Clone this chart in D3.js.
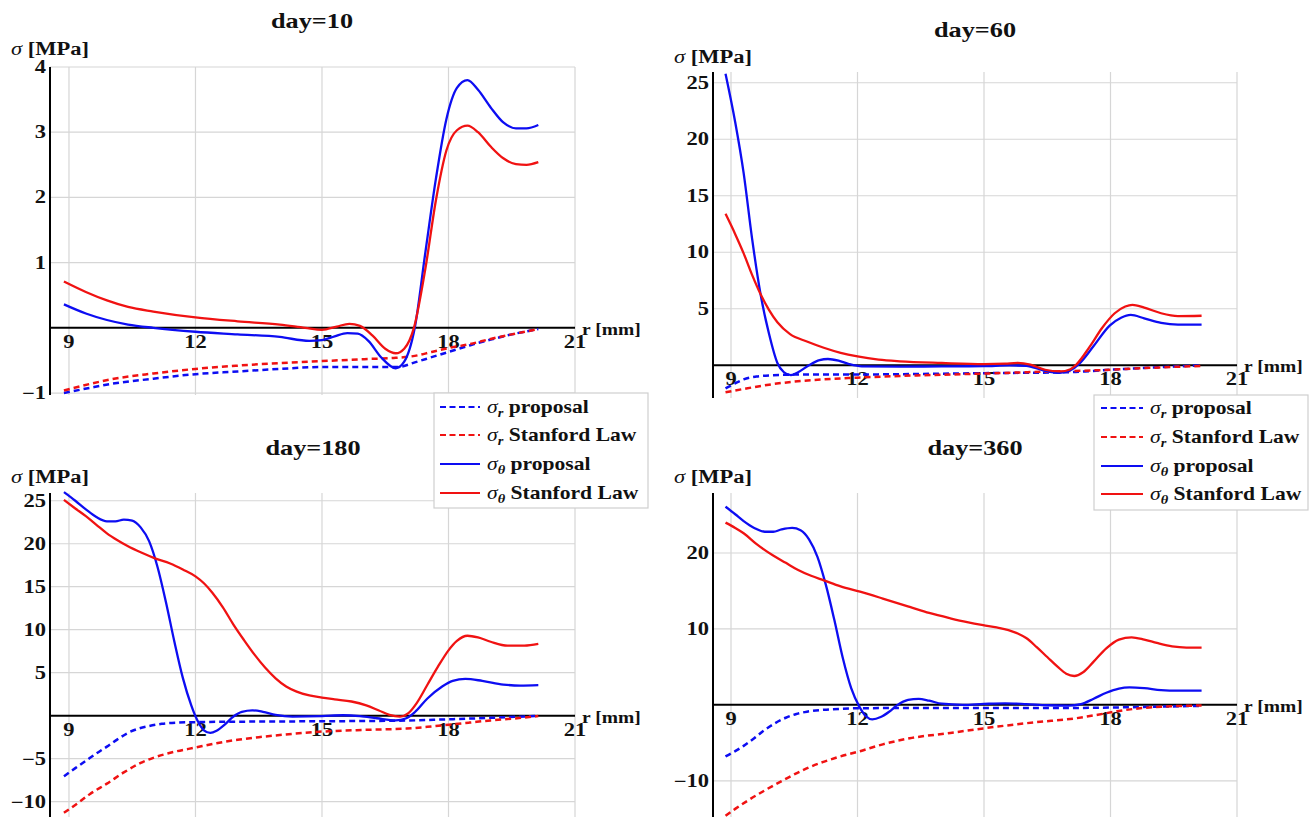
<!DOCTYPE html>
<html><head><meta charset="utf-8">
<script src="https://cdn.jsdelivr.net/npm/d3@7"></script>
<style>body{margin:0;background:#fff}svg{display:block}</style>
</head><body><svg id="c" width="1311" height="817"></svg>
<script>
// ---------------- DATA ----------------
const xTicks = [9, 12, 15, 18, 21];
const yTicks10 = [-1, 1, 2, 3, 4];
const yTicks60 = [5, 10, 15, 20, 25];
const yTicks180 = [-10, -5, 5, 10, 15, 20, 25];
const yTicks360 = [-10, 10, 20];
const titles = ["day=10", "day=60", "day=180", "day=360"];
const seriesNames = ["proposal", "Stanford Law", "proposal", "Stanford Law"];
const seriesSubs = ["r", "r", "θ", "θ"];

// day = 10   [r (mm), sigma (MPa)]
const d10_srProp = [[8.88,-1.0],[9.5,-0.92],[10,-0.86],[11,-0.78],[12,-0.71],[13,-0.67],[14,-0.63],[15,-0.6],[16,-0.6],[16.8,-0.6],[17.2,-0.53],[17.6,-0.45],[18,-0.37],[18.5,-0.27],[19,-0.18],[19.5,-0.1],[20.13,-0.02]];
const d10_srStan = [[8.88,-0.96],[9.5,-0.86],[10,-0.79],[11,-0.7],[12,-0.63],[13,-0.58],[14,-0.54],[15,-0.51],[16,-0.48],[16.75,-0.46],[17.2,-0.43],[17.6,-0.37],[18,-0.31],[18.5,-0.25],[19,-0.17],[19.5,-0.1],[20.13,-0.02]];
const d10_stProp = [[8.88,0.36],[9.4,0.22],[9.9,0.12],[10.4,0.05],[11,0.0],[12,-0.06],[13,-0.1],[14,-0.14],[14.7,-0.2],[15.0,-0.19],[15.3,-0.13],[15.6,-0.08],[15.85,-0.09],[16.1,-0.2],[16.4,-0.45],[16.75,-0.62],[16.95,-0.52],[17.2,0],[17.45,1.15],[17.7,2.28],[17.95,3.2],[18.2,3.68],[18.45,3.8],[18.7,3.65],[19.0,3.38],[19.3,3.15],[19.6,3.06],[19.85,3.06],[20.13,3.11]];
const d10_stStan = [[8.88,0.71],[9.4,0.55],[9.9,0.42],[10.4,0.32],[11,0.25],[12,0.16],[13,0.1],[14,0.05],[14.6,0.0],[15,-0.03],[15.35,0.02],[15.65,0.06],[15.9,0.03],[16.2,-0.12],[16.5,-0.32],[16.75,-0.39],[16.95,-0.32],[17.18,0],[17.45,0.9],[17.7,1.95],[17.95,2.72],[18.2,3.03],[18.45,3.1],[18.7,3.0],[19.0,2.78],[19.3,2.6],[19.6,2.51],[19.85,2.5],[20.13,2.54]];

// day = 60
const d60_srProp = [[8.87,-2.05],[9.1,-1.6],[9.3,-1.25],[9.6,-1.0],[10,-0.88],[10.5,-0.83],[12,-0.82],[15,-0.7],[17,-0.62],[17.5,-0.52],[18,-0.4],[18.5,-0.3],[19,-0.2],[19.5,-0.12],[20.16,0]];
const d60_srStan = [[8.87,-2.4],[9.3,-2.1],[9.9,-1.72],[10.5,-1.45],[11.2,-1.25],[12,-1.1],[13,-0.95],[14,-0.84],[15,-0.74],[16,-0.62],[17,-0.52],[18,-0.4],[19,-0.22],[20.16,-0.06]];
const d60_stProp = [[8.87,25.8],[9.1,21.5],[9.3,17.0],[9.5,11.2],[9.7,6.3],[9.9,2.8],[10.1,0.2],[10.25,-0.6],[10.42,-0.88],[10.6,-0.6],[10.85,0.0],[11.1,0.45],[11.3,0.55],[11.55,0.4],[11.8,0.1],[12.1,-0.1],[13,-0.12],[14,-0.1],[15,-0.08],[15.6,-0.02],[16.0,-0.05],[16.4,-0.45],[16.8,-0.68],[17.05,-0.45],[17.25,0.1],[17.6,1.7],[17.98,3.5],[18.25,4.2],[18.48,4.45],[18.8,4.15],[19.2,3.75],[19.6,3.6],[20.16,3.6]];
const d60_stStan = [[8.87,13.4],[9.1,11.6],[9.3,9.9],[9.5,8.0],[9.7,6.3],[9.9,4.9],[10.1,3.8],[10.4,2.75],[10.8,2.1],[11.2,1.55],[11.6,1.1],[12,0.78],[12.5,0.5],[13,0.35],[14,0.2],[15,0.1],[15.5,0.14],[15.8,0.2],[16.1,0.05],[16.45,-0.4],[16.8,-0.55],[17.05,-0.35],[17.2,0.1],[17.5,1.6],[17.8,3.3],[18.1,4.6],[18.35,5.2],[18.52,5.35],[18.8,5.1],[19.2,4.6],[19.6,4.35],[20.16,4.38]];

// day = 180
const d180_srProp = [[8.88,-7.05],[9.15,-6.1],[9.4,-5.25],[9.65,-4.4],[9.9,-3.6],[10.15,-2.75],[10.4,-2.0],[10.65,-1.5],[10.9,-1.2],[11.2,-0.95],[11.6,-0.8],[12,-0.75],[13,-0.7],[14,-0.67],[15,-0.65],[16,-0.62],[17,-0.57],[18,-0.42],[19,-0.25],[20.13,-0.02]];
const d180_srStan = [[8.88,-11.3],[9.2,-10.2],[9.5,-9.1],[9.9,-7.9],[10.3,-6.6],[10.7,-5.5],[11.0,-4.9],[11.5,-4.2],[12,-3.7],[12.5,-3.2],[13,-2.8],[13.5,-2.5],[14,-2.25],[15,-1.85],[16,-1.65],[17,-1.5],[17.5,-1.3],[18,-1.05],[18.5,-0.8],[19,-0.55],[19.5,-0.35],[20.13,-0.05]];
const d180_stProp = [[8.88,26.0],[9.15,25.0],[9.4,24.0],[9.65,23.1],[9.9,22.6],[10.1,22.6],[10.3,22.8],[10.5,22.7],[10.7,21.9],[10.9,20.3],[11.1,17.3],[11.3,13.2],[11.5,8.6],[11.7,4.4],[11.9,1.2],[12.05,-0.6],[12.2,-1.7],[12.35,-2.0],[12.5,-1.75],[12.7,-1.0],[12.9,-0.1],[13.1,0.45],[13.35,0.62],[13.6,0.45],[13.9,0.1],[14.3,-0.1],[15,-0.05],[15.5,0.05],[15.9,-0.05],[16.3,-0.3],[16.75,-0.55],[17.0,-0.3],[17.2,0.4],[17.5,2.0],[17.85,3.4],[18.1,4.05],[18.4,4.28],[18.8,4.05],[19.3,3.62],[19.7,3.5],[20.13,3.55]];
const d180_stStan = [[8.88,25.1],[9.15,24.1],[9.4,23.2],[9.65,22.2],[9.9,21.2],[10.15,20.4],[10.4,19.7],[10.7,19.0],[11.04,18.3],[11.4,17.7],[11.7,17.0],[12.0,16.2],[12.2,15.4],[12.4,14.3],[12.65,12.6],[12.9,10.6],[13.15,8.8],[13.4,7.1],[13.65,5.6],[13.9,4.35],[14.15,3.4],[14.4,2.8],[14.7,2.35],[15.0,2.1],[15.3,1.9],[15.7,1.65],[16.05,1.2],[16.35,0.6],[16.6,0.1],[16.85,-0.1],[17.05,0.3],[17.25,1.5],[17.5,3.6],[17.75,5.7],[18.0,7.6],[18.2,8.7],[18.45,9.3],[18.7,9.1],[19.0,8.6],[19.4,8.15],[19.8,8.15],[20.13,8.35]];

// day = 360
const d360_srProp = [[8.87,-6.8],[9.1,-6.1],[9.3,-5.4],[9.55,-4.4],[9.8,-3.3],[10.05,-2.4],[10.3,-1.7],[10.55,-1.2],[10.8,-0.9],[11.2,-0.65],[11.6,-0.52],[12,-0.45],[13,-0.42],[15,-0.42],[17,-0.42],[18,-0.35],[19,-0.25],[20.16,-0.13]];
const d360_srStan = [[8.87,-14.6],[9.1,-13.7],[9.4,-12.6],[9.79,-11.3],[10.28,-9.8],[10.78,-8.4],[11.47,-7.0],[12.06,-6.1],[12.6,-5.2],[13.24,-4.4],[14.2,-3.7],[14.98,-3.1],[16.2,-2.3],[17.2,-1.75],[17.7,-1.3],[18.2,-0.8],[18.7,-0.45],[19.2,-0.25],[20.16,-0.08]];
const d360_stProp = [[8.87,26.1],[9.1,25.1],[9.3,24.2],[9.55,23.3],[9.8,22.8],[10.0,22.8],[10.2,23.1],[10.45,23.3],[10.65,23.0],[10.85,21.8],[11.05,19.5],[11.25,15.8],[11.45,11.2],[11.65,6.2],[11.85,2.2],[12.05,-0.3],[12.2,-1.5],[12.35,-1.9],[12.55,-1.6],[12.75,-0.9],[12.95,0.0],[13.2,0.65],[13.45,0.8],[13.7,0.55],[14.0,0.15],[14.5,0.0],[15.0,0.12],[15.5,0.2],[16.0,0.1],[16.5,-0.05],[17.0,-0.1],[17.3,0.1],[17.6,0.8],[17.9,1.6],[18.2,2.15],[18.45,2.3],[18.8,2.2],[19.2,1.95],[19.6,1.88],[20.16,1.88]];
const d360_stStan = [[8.87,24.0],[9.1,23.3],[9.3,22.6],[9.6,21.2],[9.99,19.7],[10.3,18.7],[10.58,17.8],[10.9,17.0],[11.2,16.4],[11.6,15.6],[12.06,14.9],[12.6,14.0],[13.24,12.9],[13.7,12.1],[14.2,11.4],[14.6,10.9],[14.98,10.5],[15.3,10.2],[15.58,9.85],[15.8,9.4],[16.0,8.8],[16.25,7.6],[16.5,6.3],[16.75,5.0],[16.95,4.1],[17.14,3.8],[17.35,4.3],[17.6,5.7],[17.9,7.45],[18.2,8.6],[18.5,8.9],[18.8,8.6],[19.1,8.15],[19.46,7.7],[19.8,7.55],[20.16,7.55]];

// ---------------- LAYOUT ----------------
const BLUE = "#0d0df2", RED = "#f01212";
const FONT = '"Liberation Serif","Times New Roman",serif';
const SX = 1.25;
const styles = [
  {color: BLUE, dash: "6,4"},
  {color: RED, dash: "6,4"},
  {color: BLUE, dash: null},
  {color: RED, dash: null}
];

const panels = [
  {title: titles[0], series: [d10_srProp, d10_srStan, d10_stProp, d10_stStan], yTicks: yTicks10,
   xDom: [8.55, 21], xRange: [50, 575], yDom: [-1.03, 4.0], yRange: [395, 67],
   titleX: 312, titleY: 28, ylabX: 11, ylabY: 55},
  {title: titles[1], series: [d60_srProp, d60_srStan, d60_stProp, d60_stStan], yTicks: yTicks60,
   xDom: [8.573, 21], xRange: [713, 1237], yDom: [-2.9, 25.95], yRange: [398, 72],
   titleX: 975, titleY: 37, ylabX: 674, ylabY: 63},
  {title: titles[2], series: [d180_srProp, d180_srStan, d180_stProp, d180_stStan], yTicks: yTicks180,
   xDom: [8.55, 21], xRange: [50, 575], yDom: [-11.9, 25.9], yRange: [818, 493],
   titleX: 313, titleY: 455, ylabX: 11, ylabY: 483},
  {title: titles[3], series: [d360_srProp, d360_srStan, d360_stProp, d360_stStan], yTicks: yTicks360,
   xDom: [8.573, 21], xRange: [713, 1237], yDom: [-14.9, 27.9], yRange: [818, 493],
   titleX: 975, titleY: 455, ylabX: 674, ylabY: 483}
];

const svg = d3.select("#c");
svg.append("rect").attr("width", 1311).attr("height", 817).attr("fill", "#fff");

function txt(g, x, y, size, anchor, sx) {
  return g.append("text")
    .attr("transform", `translate(${x},${y}) scale(${sx || SX},1)`)
    .attr("font-family", FONT).attr("font-weight", "bold")
    .attr("font-size", size).attr("text-anchor", anchor || "start")
    .attr("fill", "#111");
}

panels.forEach(p => {
  const g = svg.append("g");
  const x = d3.scaleLinear().domain(p.xDom).range(p.xRange);
  const y = d3.scaleLinear().domain(p.yDom).range(p.yRange);
  const x0 = x(p.xDom[0]), x1 = x(21);
  const yTop = y(p.yDom[1]);

  // vertical grid
  g.append("g").selectAll("line").data(xTicks).join("line")
    .attr("x1", d => x(d)).attr("x2", d => x(d))
    .attr("y1", yTop).attr("y2", y(p.yDom[0]))
    .attr("stroke", "#d6d6d6").attr("stroke-width", 1.2);
  // horizontal grid
  g.append("g").selectAll("line").data(p.yTicks).join("line")
    .attr("x1", x0).attr("x2", x1)
    .attr("y1", d => y(d)).attr("y2", d => y(d))
    .attr("stroke", "#d6d6d6").attr("stroke-width", 1.2);

  // axes
  g.append("line").attr("x1", x0).attr("x2", x1).attr("y1", y(0)).attr("y2", y(0))
    .attr("stroke", "#000").attr("stroke-width", 2);
  g.append("line").attr("x1", x0).attr("x2", x0).attr("y1", yTop).attr("y2", y(p.yDom[0]))
    .attr("stroke", "#000").attr("stroke-width", 2);

  // tick labels
  xTicks.forEach(t => {
    txt(g, x(t), y(0) + 20, 18, "middle").text(String(t));
  });
  p.yTicks.forEach(t => {
    txt(g, x0 - 4, y(t) + 6, 18, "end").text(t < 0 ? "\u2212" + Math.abs(t) : String(t));
  });

  // axis labels
  const yl = txt(g, p.ylabX, p.ylabY, 18, "start");
  yl.append("tspan").attr("font-style", "italic").attr("font-weight", "normal").text("σ");
  yl.append("tspan").text(" [MPa]");
  txt(g, x1 + 7, y(0) + 7, 17, "start", 1.15).text("r [mm]");

  // title
  txt(g, p.titleX, p.titleY, 21, "middle").text(p.title);

  // curves
  const line = d3.line().x(d => x(d[0])).y(d => y(d[1])).curve(d3.curveMonotoneX);
  p.series.forEach((s, i) => {
    g.append("path").datum(s).attr("d", line)
      .attr("fill", "none").attr("stroke", styles[i].color)
      .attr("stroke-width", styles[i].dash ? 2.5 : 2.3)
      .attr("stroke-dasharray", styles[i].dash)
      .attr("stroke-linejoin", "round");
  });
});

// legends
const legends = [
  {x: 434, y: 393, w: 214, h: 115, rows: [407, 435, 464, 493], lx0: 440, lx1: 480, tx: 487},
  {x: 1094, y: 395, w: 214, h: 115, rows: [408, 437, 466, 494], lx0: 1101, lx1: 1143, tx: 1150}
];
legends.forEach(L => {
  const g = svg.append("g");
  g.append("rect").attr("x", L.x).attr("y", L.y).attr("width", L.w).attr("height", L.h)
    .attr("fill", "#fff").attr("stroke", "#cfcfcf").attr("stroke-width", 1.2);
  L.rows.forEach((ry, i) => {
    g.append("line").attr("x1", L.lx0).attr("x2", L.lx1).attr("y1", ry).attr("y2", ry)
      .attr("stroke", styles[i].color).attr("stroke-width", 2.2)
      .attr("stroke-dasharray", styles[i].dash ? "6,3.5" : null);
    const t = txt(g, L.tx, ry + 6, 18, "start", 1.2);
    t.append("tspan").attr("font-style", "italic").attr("font-weight", "normal").text("σ");
    t.append("tspan").attr("font-style", "italic").attr("font-size", 12).attr("dy", 4).text(seriesSubs[i]);
    t.append("tspan").attr("dy", -4).text(" " + seriesNames[i]);
  });
});
</script></body></html>
